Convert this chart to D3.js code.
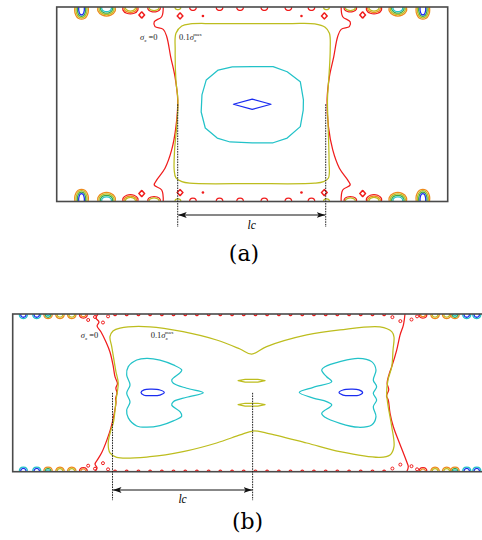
<!DOCTYPE html>
<html>
<head>
<meta charset="utf-8">
<script src="https://cdn.jsdelivr.net/npm/d3@7"></script>
<style>
  body { margin: 0; background: #fff; }
  svg { display: block; }
  .box { fill: none; stroke: #4a4a4a; stroke-width: 1.6; }
  .ct { fill: none; stroke-width: 1.25; stroke-linejoin: round; }
  .dash { stroke: #222; stroke-width: 1; stroke-dasharray: 1.6,1; }
</style>
</head>
<body>
<div id="chart"></div>
<script>
// contour levels (sigma_x), outer -> inner
var levels = ["red", "orange", "yellow", "green", "cyan", "blue"];
var levelColors = ["#f01c1c", "#ef8a1c", "#bdbd1e", "#3aa84a", "#22c2c8", "#1a2cf0"];

// ---- panel (a): x 0..200, y 0..100 ----
var aRedLeft = [[54.5,100],[53.7,95],[49.9,92.4],[50.3,89.9],[54.5,88.5],[56.3,84.7],[58.3,74.4],[60.5,64.2],[61.9,52.2],[61,38.5],[58.8,26.5],[55.4,17.1],[51.2,11.1],[49.9,8.5],[53.7,5.9],[54.5,0]];
var aRedRight = [[145.5,100],[146.3,95],[150.1,92.4],[149.7,89.9],[145.5,88.5],[143.7,84.7],[141.7,74.4],[139.5,64.2],[138.3,52.2],[139,38.5],[141.2,26.5],[144.6,17.1],[148.8,11.1],[150.1,8.5],[146.3,5.9],[145.5,0]];
var aYellow = [[64,90.2],[68.3,91.3],[80,91.5],[100,91.5],[120,91.5],[132,91.3],[137.3,89.6],[139.5,86.5],[139.9,77.9],[139.3,65],[138.5,52.2],[138.8,40],[139.3,21.3],[139,12.1],[136.5,10.2],[132,9.4],[100,9.2],[68,9.4],[64,10.2],[61,12.1],[60.1,16.2],[60.3,26.5],[61.5,40],[62,52.2],[61,62],[60.6,77.9],[61,86.5]];
var aCyan = [[100,69.3],[110.7,69.3],[117.9,66.7],[124.6,61.6],[126.2,52.2],[126.1,47],[124.6,38.5],[117.9,32.6],[110.7,30.2],[100,30.2],[88.7,30.6],[82.1,32.6],[76,37.8],[73.9,46],[74.3,54.8],[76.5,62.5],[82.6,67.6],[89.8,69.2]];
var aBlue = [[90.4,50],[100,52.6],[109.6,50],[100,47.4]];
// contours closing on the top / bottom edges
var aEdgeBlobs = [[12.7,"A"],[25.5,"B"],[37.7,"C"],[49.8,"D"],[150.2,"D"],[162.3,"C"],[174.5,"B"],[187.3,"A"],
  [69.7,"r"],[83.3,"r"],[93.8,"r"],[106.2,"r"],[118.5,"r"],[130.3,"r"],[62,"y"],[138,"y"]];
var aBlobTypes = {
  A: {w: 3.4, d: 5.8, lv: ["orange","yellow","green","blue"]},
  B: {w: 4.4, d: 4.2, lv: ["orange","yellow","green","cyan"]},
  C: {w: 3.8, d: 3.2, lv: ["red","orange","yellow"]},
  D: {w: 3.1, d: 2.3, lv: ["red","yellow"]},
  r: {w: 1.6, d: 1.6, lv: ["red"]},
  y: {w: 1.4, d: 1.2, lv: ["yellow"]}
};
var aDiamonds = [[43.5,95.9],[63.1,95.4],[136.9,95.4],[156.5,95.9],[43.5,4.1],[63.1,4.6],[136.9,4.6],[156.5,4.1]];
var aDots = [[74.8,95.4],[125.2,95.4],[74.8,4.6],[125.2,4.6]];
var aLc = [61.9, 137.6];

// ---- panel (b): x 0..300, y 0..100 ----
var bRedLeft = [[53.6,100],[52.3,97.4],[54.2,94.9],[53,92.4],[55.5,88.6],[58.6,82.2],[61.1,75.9],[63,67.7],[64.3,60.1],[65.8,56],[64.8,53],[65.5,50],[64.6,46],[64.9,44.2],[63.6,36],[61.7,27.8],[59.2,20.2],[56.1,12.5],[53.6,8.1],[51.7,4.9],[53,2.3],[51.7,0]];
var bRedRight = [[246.4,100],[245.4,93],[243.3,86.6],[241.2,77.1],[238.1,66.6],[236.5,62],[235.2,56],[236.2,52],[234.8,48],[235.9,45.5],[237,37.2],[239.1,28.5],[242.2,20.1],[245.4,11.9],[247.5,6.3],[248.5,3.2],[247.5,0]];
var bYellow = [[61.1,85.6],[63,89.2],[67.4,91.1],[86.2,91.9],[107,88.8],[128.1,83.5],[142.8,77.8],[150.1,74.6],[159.5,79.3],[184.7,86.7],[205.6,89.9],[230.7,91.8],[238.1,88.8],[239.5,85.4],[238.9,77.2],[238.1,66.6],[235.7,58.1],[234.9,49.9],[235.7,42.3],[238.1,28.5],[239.5,15.9],[237,10.6],[230.7,9.1],[205.6,12.7],[184.7,18.2],[159.5,24.5],[150.9,25.8],[142.8,23.3],[128.1,18.2],[107,12.7],[86.2,9.5],[65.3,9.1],[61.1,11.9],[60,18.2],[61.7,26.4],[63.2,30.9],[64.3,39.1],[64.9,45.5],[66.3,56.2],[64.9,63.2],[64.3,66.6],[62.2,79.3]];
var bLensTop = [[141.6,57.7],[146,58.6],[154,58.6],[158.5,57.7],[154,56.8],[146,56.8]];
var bLensBottom = [[141.6,42.5],[146,43.4],[154,43.4],[158.5,42.5],[154,41.6],[146,41.6]];
var bCyanLeft = [[84.2,71.9],[92.5,70.8],[100.9,67.7],[106.2,64.5],[105.2,62.8],[99.9,58.1],[100.9,56.1],[109.3,52.9],[119.7,50.1],[109.3,47.2],[100.9,44.4],[99.9,42.3],[105.2,37.9],[106.2,35.3],[100.9,32.2],[92.5,29.2],[84.2,28.2],[77.9,29],[72.6,34.1],[71.6,39.1],[73.7,44.2],[71.6,49.9],[73.7,55],[71.6,61.3],[72.6,66.6],[77.9,70.8]];
var bCyanRight = [[180,50.3],[188.8,53.5],[200.4,57.1],[197.2,60.2],[194.1,64.5],[196.2,66.6],[205.6,69.8],[217.1,71.9],[225.5,69.8],[228.2,64.5],[226.5,58.1],[228.6,53.9],[226.5,49.7],[228.6,45.5],[226.5,41.2],[228.2,34.9],[225.5,29.6],[217.1,28.2],[205.6,30.7],[196.2,34.5],[194.1,37],[200.4,42.3],[197.2,44.4],[188.8,46.7]];
var bBlueLeft = [[80.6,50.2],[82.5,51.9],[87.5,52.3],[92.5,51.8],[95.2,50.2],[92.5,48.6],[87.5,48.2],[82.5,48.5]];
var bBlueRight = [[205,50.2],[207.5,51.8],[212.5,52.3],[217.5,51.9],[219.8,50.2],[217.5,48.5],[212.5,48.2],[207.5,48.6]];
var bEdgeBlobs = [[6.7,"P"],[15.1,"P"],[22.2,"Q"],[29.7,"R"],[37.1,"R"],[44.4,"S"],[257.7,"S"],[265.3,"R"],[272.6,"R"],[277.8,"Q"],[285.2,"P"],[291.5,"P"],
  [64.3,"r"],[71.6,"r"],[79,"r"],[86.3,"r"],[93.7,"r"],[101,"r"],[108.4,"r"],[115.7,"r"],[123.1,"r"],[130.4,"r"],[137.8,"r"],[145.1,"r"],
  [152.5,"r"],[159.8,"r"],[167.2,"r"],[174.5,"r"],[181.9,"r"],[189.2,"r"],[196.6,"r"],[203.9,"r"],[211.3,"r"],[218.6,"r"],[226,"r"],[233.3,"r"]];
var bBlobTypes = {
  P: {w: 2.4, d: 2.7, lv: ["cyan","blue"]},
  Q: {w: 2.5, d: 2.7, lv: ["orange","green","cyan"]},
  R: {w: 2.5, d: 2.6, lv: ["orange","yellow"]},
  S: {w: 2.3, d: 2.4, lv: ["red","orange"]},
  r: {w: 0.8, d: 0.9, lv: ["red"]}
};
var bLoops = [[47.4,96.2],[51.7,98.1],[56.7,94.6],[59.9,98.5],[238.5,98],[243.5,95.5],[250.5,96.5],[254,98.5],
  [47.4,3.8],[51.7,1.9],[56.7,5.4],[59.9,1.5],[238.5,2],[243.5,4.5],[250.5,3.5],[254,1.5]];
var bLc = [62.7, 150.7];

var width = 482, height = 540;
var color = d3.scaleOrdinal().domain(levels).range(levelColors);

var svg = d3.select("#chart").append("svg")
    .attr("width", width)
    .attr("height", height)
    .attr("font-family", "'Liberation Serif','Times New Roman',serif");

var defs = svg.append("defs");
defs.append("marker")
    .attr("id", "arrow")
    .attr("markerUnits", "userSpaceOnUse")
    .attr("markerWidth", 9).attr("markerHeight", 7)
    .attr("refX", 8.5).attr("refY", 3.5)
    .attr("orient", "auto-start-reverse")
  .append("path")
    .attr("d", "M0,0.6 L8.5,3.5 L0,6.4 L2,3.5 Z")
    .attr("fill", "#111");

function drawPanel(cfg) {
  var g = svg.append("g");
  var x = d3.scaleLinear().domain([0, cfg.xMax]).range([cfg.left, cfg.left + cfg.width]);
  var y = d3.scaleLinear().domain([0, 100]).range([cfg.top + cfg.height, cfg.top]);

  var openLine = d3.line().x(function(p) { return x(p[0]); }).y(function(p) { return y(p[1]); })
      .curve(d3.curveCatmullRom.alpha(0.5));
  var closedLine = d3.line().x(function(p) { return x(p[0]); }).y(function(p) { return y(p[1]); })
      .curve(d3.curveCatmullRomClosed.alpha(0.5));
  var polyLine = d3.line().x(function(p) { return x(p[0]); }).y(function(p) { return y(p[1]); })
      .curve(d3.curveLinearClosed);
  var pxLine = d3.line().curve(d3.curveCatmullRom.alpha(0.5));

  // contours that end on the top / bottom edges, nested rings
  ["top", "bottom"].forEach(function(edge) {
    var ey = edge == "top" ? y(100) : y(0);
    var s = edge == "top" ? 1 : -1;
    cfg.blobs.forEach(function(b) {
      var t = cfg.types[b[1]];
      var cx = x(b[0]);
      var hw = x(t.w) - x(0);
      var dep = y(0) - y(t.d);
      t.lv.forEach(function(lv, k) {
        var h = hw - k * 1.3, dd = dep - k * 1.3;
        if (h < 0.6 || dd < 0.6) return;
        var pts = [[cx - h, ey], [cx - h, ey + s * dd * 0.5], [cx - h * 0.5, ey + s * dd],
                   [cx + h * 0.5, ey + s * dd], [cx + h, ey + s * dd * 0.5], [cx + h, ey]];
        g.append("path").attr("class", "ct")
          .attr("stroke", color(lv))
          .attr("stroke-width", lv == "blue" ? 1.6 : 1.2)
          .attr("d", pxLine(pts));
      });
    });
  });

  // small closed red loops near the edges
  (cfg.diamonds || []).forEach(function(p) {
    g.append("path").attr("class", "ct").attr("stroke", color("red"))
      .attr("d", d3.symbol(d3.symbolDiamond, 14)())
      .attr("transform", "translate(" + x(p[0]) + "," + y(p[1]) + ") scale(1.4,0.9)");
  });
  (cfg.dots || []).forEach(function(p) {
    g.append("circle").attr("cx", x(p[0])).attr("cy", y(p[1])).attr("r", 1.3)
      .attr("fill", color("red"));
  });
  (cfg.loops || []).forEach(function(p) {
    g.append("circle").attr("cx", x(p[0])).attr("cy", y(p[1])).attr("r", 1.5)
      .attr("fill", "none").attr("stroke", color("red")).attr("stroke-width", 1);
  });

  // main contours
  cfg.contours.forEach(function(c) {
    var gen = c.type == "open" ? openLine : (c.type == "poly" ? polyLine : closedLine);
    g.append("path").attr("class", "ct")
      .attr("stroke", color(c.level))
      .attr("d", gen(c.pts));
  });

  // frame
  g.append("rect").attr("class", "box")
    .attr("x", x(0)).attr("y", y(100))
    .attr("width", x(cfg.xMax) - x(0))
    .attr("height", y(0) - y(100));

  // lc dimension
  cfg.lc.forEach(function(v) {
    g.append("line").attr("class", "dash")
      .attr("x1", x(v)).attr("x2", x(v))
      .attr("y1", y(50)).attr("y2", y(0) + cfg.dashDy);
  });
  g.append("line")
    .attr("x1", x(cfg.lc[0]) + 0.5).attr("x2", x(cfg.lc[1]) - 0.5)
    .attr("y1", y(0) + cfg.arrowDy).attr("y2", y(0) + cfg.arrowDy)
    .attr("stroke", "#111").attr("stroke-width", 1)
    .attr("marker-start", "url(#arrow)").attr("marker-end", "url(#arrow)");
  g.append("text")
    .attr("x", x((cfg.lc[0] + cfg.lc[1]) / 2)).attr("y", y(0) + cfg.lcDy)
    .attr("text-anchor", "middle").attr("font-size", 11.5).attr("font-style", "italic")
    .text("lc");

  // level labels
  var l0 = g.append("text").attr("x", x(cfg.zeroLabel[0])).attr("y", y(cfg.zeroLabel[1]))
    .attr("font-size", 8.5).attr("fill", "#222");
  l0.append("tspan").attr("font-style", "italic").text("σ");
  l0.append("tspan").attr("font-size", 5).attr("dy", 2).attr("font-style", "italic").text("x");
  l0.append("tspan").attr("dy", -2).text(" =0");

  var l1 = g.append("text").attr("x", x(cfg.tenthLabel[0])).attr("y", y(cfg.tenthLabel[1]))
    .attr("font-size", 8.5).attr("fill", "#222");
  l1.append("tspan").text("0.1");
  l1.append("tspan").attr("font-style", "italic").text("σ");
  l1.append("tspan").attr("font-size", 5).attr("dy", 2).attr("font-style", "italic").text("x");
  l1.append("tspan").attr("font-size", 5).attr("dx", -3).attr("dy", -6).text("max");

  // caption
  svg.append("text")
    .attr("x", cfg.capX).attr("y", cfg.capY)
    .attr("text-anchor", "middle").attr("font-size", 22)
    .attr("font-family", "'DejaVu Serif','Liberation Serif',serif")
    .attr("font-weight", 300)
    .text(cfg.caption);
}

drawPanel({
  left: 56.7, top: 7, width: 391, height: 194.5, xMax: 200,
  arrowDy: 13.5, dashDy: 25.5, lcDy: 27,
  caption: "(a)", capX: 244, capY: 261,
  zeroLabel: [42.6, 82.8], tenthLabel: [62.6, 82.8],
  blobs: aEdgeBlobs, types: aBlobTypes, diamonds: aDiamonds, dots: aDots,
  lc: aLc,
  contours: [
    {level: "red", type: "open", pts: aRedLeft},
    {level: "red", type: "open", pts: aRedRight},
    {level: "yellow", type: "closed", pts: aYellow},
    {level: "cyan", type: "poly", pts: aCyan},
    {level: "blue", type: "poly", pts: aBlue}
  ]
});

drawPanel({
  left: 12.7, top: 314, width: 477.6, height: 157.7, xMax: 300,
  arrowDy: 18.3, dashDy: 28.5, lcDy: 31.5,
  caption: "(b)", capX: 247.5, capY: 529,
  zeroLabel: [42.7, 84.6], tenthLabel: [86.7, 84.6],
  blobs: bEdgeBlobs, types: bBlobTypes, loops: bLoops,
  lc: bLc,
  contours: [
    {level: "red", type: "open", pts: bRedLeft},
    {level: "red", type: "open", pts: bRedRight},
    {level: "yellow", type: "closed", pts: bYellow},
    {level: "yellow", type: "poly", pts: bLensTop},
    {level: "yellow", type: "poly", pts: bLensBottom},
    {level: "cyan", type: "closed", pts: bCyanLeft},
    {level: "cyan", type: "closed", pts: bCyanRight},
    {level: "blue", type: "closed", pts: bBlueLeft},
    {level: "blue", type: "closed", pts: bBlueRight}
  ]
});
</script>
</body>
</html>
